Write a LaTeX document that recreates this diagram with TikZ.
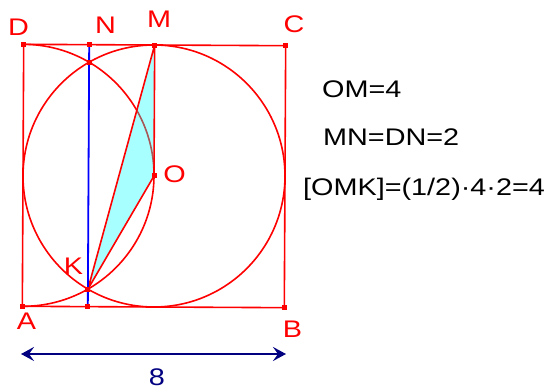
\documentclass[tikz,border=0pt]{standalone}
\usepackage{fontspec}
\setmainfont{Liberation Sans}
\usetikzlibrary{arrows.meta}
\definecolor{navyblue}{RGB}{0,0,128}
\definecolor{cyanfill}{RGB}{0,255,255}
\definecolor{pure red}{RGB}{255,0,0}
\definecolor{pureblue}{RGB}{0,0,255}
\begin{document}
\begin{tikzpicture}[x=1pt,y=1pt,
  geo/.style={pure red, line width=1.6pt},
  ptmark/.style={fill=pure red, draw=none, rectangle, minimum size=5pt, inner sep=0pt},
  lab/.style={pure red, font=\fontsize{24}{24}\selectfont, anchor=base, inner sep=0pt},
  txt/.style={black, font=\fontsize{24}{24}\selectfont, anchor=base west, inner sep=0pt}]
\useasboundingbox (0,0) rectangle (555,391);
\begin{scope}[shift={(154,215)}, rotate=-0.3]
  \coordinate (O) at (0,0);
  \coordinate (A) at (-131,-131);
  \coordinate (B) at (131,-131);
  \coordinate (C) at (131,131);
  \coordinate (D) at (-131,131);
  \coordinate (M) at (0,131);
  \coordinate (N) at (-65.5,131);
  \coordinate (F) at (-65.5,-131);
  \coordinate (P) at (-65.5,113.45);
  \coordinate (K) at (-65.5,-113.45);
  % circles
  \draw[geo] (O) circle[radius=131];
  \draw[geo] (D) arc[start angle=90, end angle=-90, radius=131];
  % square
  \draw[geo] (A) -- (B) -- (C) -- (D) -- cycle;
  % triangle
  \fill[cyanfill, fill opacity=0.34] (O) -- (M) -- (K) -- cycle;
  \draw[geo, line join=round] (O) -- (M) -- (K) -- cycle;
  % blue segment
  \draw[pureblue, line width=1.8pt] (N) -- (F);
  % point markers
  \foreach \p in {A,B,C,D,M,N,F,P,K,O} \node[ptmark] (m\p) at (\p) {};
\end{scope}
% labels
\node[lab] (lD) at (18.5,355) {\scalebox{1.2}[1]{D}};
\node[lab] (lN) at (105.5,357) {\scalebox{1.2}[1]{N}};
\node[lab] (lM) at (159,363) {\scalebox{1.2}[1]{M}};
\node[lab] (lC) at (294,358) {\scalebox{1.2}[1]{C}};
\node[lab] (lO) at (174.5,208) {\scalebox{1.2}[1]{O}};
\node[lab] (lK) at (73.5,116) {\scalebox{1.2}[1]{K}};
\node[lab] (lA) at (26.5,61) {\scalebox{1.2}[1]{A}};
\node[lab] (lB) at (292.5,53.5) {\scalebox{1.2}[1]{B}};
% dimension arrow
\coordinate (d1) at (21,37);
\coordinate (d2) at (286,37);
\draw[navyblue, line width=2.4pt, {Stealth[length=13pt,width=14pt,inset=5pt]}-{Stealth[length=13pt,width=14pt,inset=5pt]}] (d1) -- (d2);
\node[lab, navyblue] (l8) at (157,5) {\scalebox{1.2}[1]{8}};
% texts
\node[txt] (t1) at (322,293) {\scalebox{1.2}[1]{OM=4}};
\node[txt] (t2) at (323,245) {\scalebox{1.2}[1]{MN=DN=2}};
\node[txt] (t3) at (303,195) {\scalebox{1.2}[1]{[OMK]=(1/2)·4·2=4}};
\end{tikzpicture}
\end{document}
